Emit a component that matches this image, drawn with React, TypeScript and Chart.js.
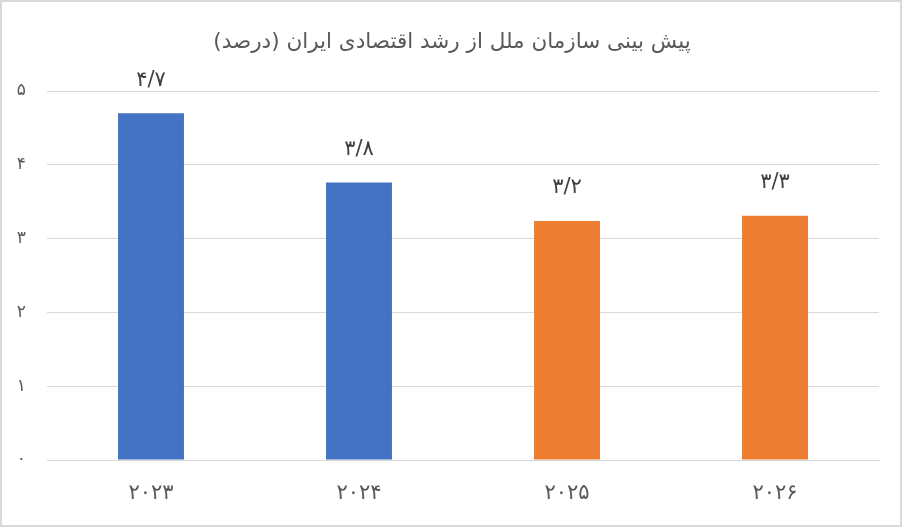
import React, { useEffect, useRef } from "react";
import { Chart, registerables } from "chart.js";

Chart.register(...registerables);

// values
const years = ["۲۰۲۳", "۲۰۲۴", "۲۰۲۵", "۲۰۲۶"];
const growth = [4.7, 3.76, 3.24, 3.31];
const growthLabels = ["۴/۷", "۳/۸", "۳/۲", "۳/۳"];
const barColors = ["#4472C4", "#4472C4", "#ED7D31", "#ED7D31"];
const yTickLabels = ["۰", "۱", "۲", "۳", "۴", "۵"];
const title = "پیش بینی سازمان ملل از رشد اقتصادی ایران (درصد)";

const FONT = "'DejaVu Sans', sans-serif";

// numbers above the bars
const valueLabels = {
  id: "valueLabels",
  afterDatasetsDraw(chart: any) {
    const ctx = chart.ctx;
    const meta = chart.getDatasetMeta(0);
    ctx.save();
    ctx.font = `21px ${FONT}`;
    ctx.fillStyle = "#404040";
    ctx.textAlign = "center";
    ctx.textBaseline = "middle";
    meta.data.forEach((bar: any, i: number) => {
      ctx.fillText(growthLabels[i], bar.x, bar.y - 33);
    });
    ctx.restore();
  },
};

// title centred on the whole canvas (chart.js would centre it on the padded box)
const centredTitle = {
  id: "centredTitle",
  afterDraw(chart: any) {
    const ctx = chart.ctx;
    ctx.save();
    ctx.font = `21.5px ${FONT}`;
    ctx.fillStyle = "#595959";
    ctx.textAlign = "center";
    ctx.textBaseline = "middle";
    ctx.fillText(title, chart.width / 2 + 1, 40);
    ctx.restore();
  },
};

export default function App() {
  const canvasRef = useRef<HTMLCanvasElement | null>(null);

  useEffect(() => {
    document.body.style.margin = "0";
    if (!canvasRef.current) return;
    const chart = new Chart(canvasRef.current, {
      type: "bar",
      data: {
        labels: years,
        datasets: [
          {
            data: growth,
            backgroundColor: barColors,
            barPercentage: 0.317,
            categoryPercentage: 1,
          },
        ],
      },
      plugins: [valueLabels, centredTitle],
      options: {
        animation: false,
        responsive: false,
        maintainAspectRatio: false,
        layout: { padding: { left: 0, right: 21, top: 89, bottom: 0 } },
        plugins: {
          legend: { display: false },
          tooltip: { enabled: false },
          title: { display: false },
        },
        scales: {
          x: {
            grid: { display: false, drawTicks: false },
            border: { color: "#d9d9d9", width: 1 },
            ticks: {
              color: "#595959",
              font: { family: FONT, size: 21 },
              padding: 21,
            },
            afterFit: (s: any) => {
              s.height = 65;
            },
          },
          y: {
            min: 0,
            max: 5,
            grid: { color: "#d9d9d9", lineWidth: 1, drawTicks: false },
            border: { display: false },
            ticks: {
              stepSize: 1,
              color: "#595959",
              font: { family: FONT, size: 17 },
              padding: 21,
              callback: (v: any) => yTickLabels[Number(v)] ?? "",
            },
            afterFit: (s: any) => {
              s.width = 45;
            },
          },
        },
      },
    });
    return () => chart.destroy();
  }, []);

  return (
    <div
      style={{
        width: 902,
        height: 527,
        boxSizing: "border-box",
        border: "2px solid #d9d9d9",
        background: "#fff",
      }}
    >
      <canvas ref={canvasRef} width={898} height={523} style={{ display: "block" }} />
    </div>
  );
}
